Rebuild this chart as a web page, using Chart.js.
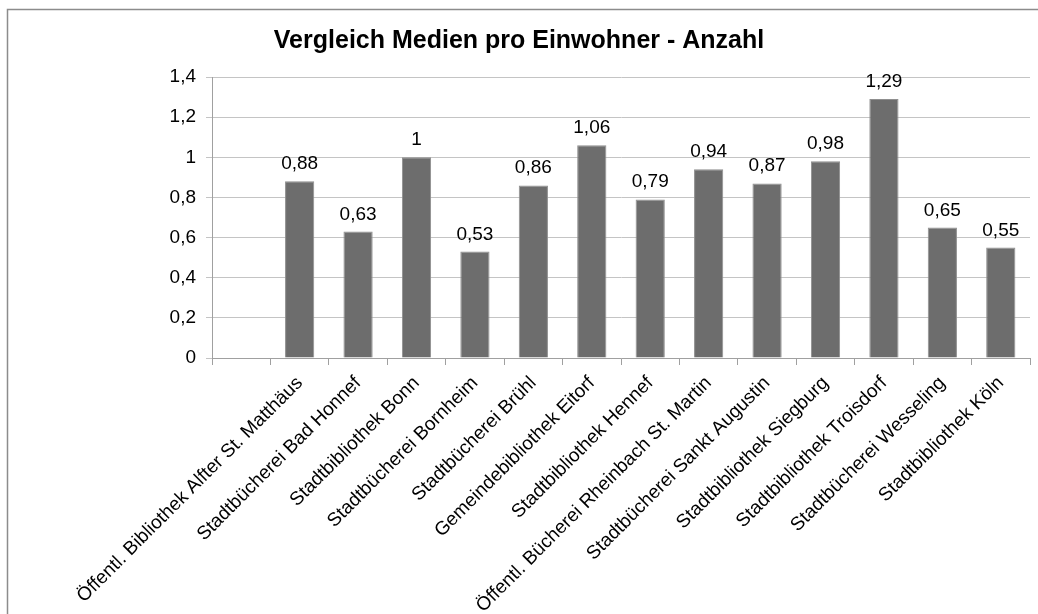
<!DOCTYPE html>
<html>
<head>
<meta charset="utf-8">
<script src="https://cdn.jsdelivr.net/npm/chart.js@4.4.1/dist/chart.umd.min.js"></script>
<style>
html,body{margin:0;padding:0;background:#fff;}
#wrap{width:1038px;height:614px;position:relative;}
</style>
</head>
<body>
<div id="wrap"><canvas id="c" width="1038" height="614"></canvas></div>
<script>
const titleText = 'Vergleich Medien pro Einwohner - Anzahl';
const categories = [
  '',
  'Öffentl. Bibliothek Alfter St. Matthäus',
  'Stadtbücherei Bad Honnef',
  'Stadtbibliothek Bonn',
  'Stadtbücherei Bornheim',
  'Stadtbücherei Brühl',
  'Gemeindebibliothek Eitorf',
  'Stadtbibliothek Hennef',
  'Öffentl. Bücherei Rheinbach St. Martin',
  'Stadtbücherei Sankt Augustin',
  'Stadtbibliothek Siegburg',
  'Stadtbibliothek Troisdorf',
  'Stadtbücherei Wesseling',
  'Stadtbibliothek Köln'
];
const values = [null, 0.88, 0.63, 1, 0.53, 0.86, 1.06, 0.79, 0.94, 0.87, 0.98, 1.29, 0.65, 0.55];
const yTicks = [0, 0.2, 0.4, 0.6, 0.8, 1, 1.2, 1.4];

const fmt = v => String(Math.round(v * 100) / 100).replace('.', ',');
const FONT = "'Liberation Sans', Arial, sans-serif";

const framePlugin = {
  id: 'frame',
  beforeDraw(chart) {
    const ctx = chart.ctx;
    ctx.save();
    ctx.fillStyle = '#fff';
    ctx.fillRect(0, 0, chart.width, chart.height);
    ctx.strokeStyle = '#8c8c8c';
    ctx.lineWidth = 1.5;
    ctx.beginPath();
    ctx.moveTo(7.5, chart.height);
    ctx.lineTo(7.5, 9.5);
    ctx.lineTo(chart.width, 9.5);
    ctx.stroke();
    ctx.restore();
  }
};

const valueLabels = {
  id: 'valueLabels',
  afterDatasetsDraw(chart) {
    const ctx = chart.ctx;
    ctx.save();
    ctx.font = '19px ' + FONT;
    ctx.fillStyle = '#000';
    ctx.textAlign = 'center';
    ctx.textBaseline = 'alphabetic';
    const meta = chart.getDatasetMeta(0);
    meta.data.forEach((bar, i) => {
      const v = values[i];
      if (v === null || v === undefined) return;
      ctx.fillText(fmt(v), bar.x, bar.y - 12);
    });
    ctx.restore();
  }
};

new Chart(document.getElementById('c'), {
  type: 'bar',
  data: {
    labels: categories,
    datasets: [{
      data: values,
      backgroundColor: '#6d6d6d',
      borderColor: '#8f8f8f',
      borderWidth: 1,
      categoryPercentage: 1,
      barPercentage: 0.5
    }]
  },
  options: {
    responsive: false,
    animation: false,
    layout: { padding: { left: 8, right: 8, top: 10, bottom: 0 } },
    plugins: {
      legend: { display: false },
      tooltip: { enabled: false },
      title: {
        display: true,
        text: titleText,
        color: '#000',
        font: { family: FONT, size: 25, weight: 'bold' },
        padding: { top: 16, bottom: 21 }
      }
    },
    scales: {
      x: {
        grid: { display: true, offset: true, drawOnChartArea: false, tickLength: 7, color: '#a0a0a0' },
        border: { color: '#a0a0a0' },
        ticks: {
          color: '#000',
          font: { family: FONT, size: 19 },
          maxRotation: 45, minRotation: 45,
          autoSkip: false,
          padding: 7
        },
        afterFit(scale) { scale.height = 256; }
      },
      y: {
        min: 0, max: 1.4,
        afterBuildTicks(scale) { scale.ticks = yTicks.map(v => ({ value: v })); },
        grid: { color: '#c4c4c4', tickLength: 6 },
        border: { color: '#a0a0a0' },
        ticks: {
          color: '#000',
          font: { family: FONT, size: 19 },
          padding: 10,
          callback: v => fmt(v)
        },
        afterFit(scale) { scale.width = 204; }
      }
    }
  },
  plugins: [framePlugin, valueLabels]
});
</script>
</body>
</html>
